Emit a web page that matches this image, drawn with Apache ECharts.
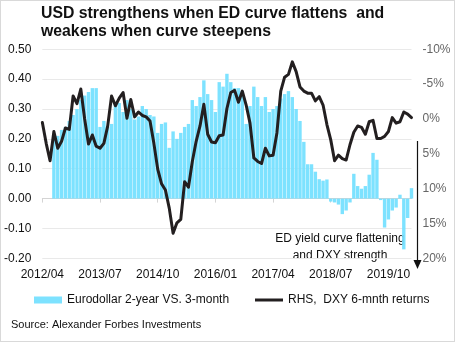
<!DOCTYPE html>
<html>
<head>
<meta charset="utf-8">
<script src="https://cdn.jsdelivr.net/npm/echarts@6/dist/echarts.min.js"></script>
<style>
html,body{margin:0;padding:0;background:#fff;}
#c{width:455px;height:342px;box-sizing:border-box;border:1px solid #d9d9d9;}
</style>
</head>
<body>
<div id="c"></div>
<script>
// ---- data ----
const startYear = 2012, startMonth = 4, monthCount = 97;
const categories = [];
for (let k = 0; k < monthCount; k++) {
  const m = (startMonth - 1 + k) % 12 + 1;
  const y = startYear + Math.floor((startMonth - 1 + k) / 12);
  categories.push(y + '/' + String(m).padStart(2, '0'));
}
const tickLabels = ['2012/04','2013/07','2014/10','2016/01','2017/04','2018/07','2019/10'];

// Eurodollar 2-year vs 3-month spread (left axis)
const edSpread = [
  null, null, null, 0.20, 0.21, 0.23, 0.24, 0.26, 0.28, 0.30,
  0.33, 0.345, 0.357, 0.37, 0.37, 0.24, 0.26, 0.24, 0.25, 0.32,
  0.32, 0.29, 0.33, 0.30, 0.265, 0.275, 0.31, 0.30, 0.28, 0.275,
  0.22, 0.25, 0.255, 0.17, 0.225, 0.20, 0.22, 0.24, 0.25, 0.33,
  0.31, 0.34, 0.396, 0.35, 0.33, 0.29, 0.39, 0.375, 0.418, 0.39,
  0.37, 0.37, 0.36, 0.25, 0.31, 0.375, 0.34, 0.31, 0.34, 0.29,
  0.30, 0.31, 0.335, 0.35, 0.36, 0.34, 0.30, 0.26, 0.19, 0.115,
  0.115, 0.09, 0.065, 0.06, 0.064, -0.01, -0.013, -0.02, -0.052, -0.04,
  -0.013, 0.083, 0.042, 0.033, 0.042, 0.08, 0.153, 0.13, -0.005, -0.097,
  -0.07, -0.04, -0.03, 0.013, -0.17, -0.065, 0.035
];

// DXY 6-month returns, % (right axis, inverted)
const dxyReturns = [
  0.5, 3.5, 6.0, 1.8, 4.2, 3.2, 1.3, 1.5, -3.3, -2.2,
  -4.3, 0.0, 3.6, 2.3, 3.9, 4.2, 3.5, 1.0, -3.3, -1.9,
  -3.0, -3.8, -0.1, -2.8, -0.3, -1.0, -0.5, -0.3, 0.3, 3.5,
  7.2, 9.3, 10.2, 12.8, 16.4, 14.9, 14.4, 9.0, 9.8, 6.1,
  3.2, 1.0, -2.1, 2.2, 3.3, 3.4, 2.4, 2.3, -1.5, -3.8,
  -4.1, -2.4, -4.0, -2.0, 0.6, 5.6, 6.1, 6.4, 4.2, 5.3,
  5.2, 2.0, -4.0, -6.0, -6.4, -8.2, -6.8, -4.6, -4.0, -3.7,
  -3.7, -2.6, -3.2, -2.0, 0.8, 3.0, 6.0, 5.2, 5.7, 5.9,
  3.7, 1.9, 1.0, 1.2, 2.2, 0.4, 0.2, 2.8, 2.8, 2.5,
  1.8, -0.2, 0.6, 0.4, -1.0, -0.7, -0.2
];

const seriesNames = ['Eurodollar 2-year VS. 3-month', 'RHS,  DXY 6-mnth returns'];
const titleLines = ['USD strengthens when ED curve flattens  and', 'weakens when curve steepens'];
const noteLines = ['ED yield curve flattening', 'and DXY strength'];
const sourceText = 'Source: Alexander Forbes Investments';

// ---- chart ----
const chart = echarts.init(document.getElementById('c'), null, {renderer: 'canvas'});
const FONT = 'Liberation Sans, Arial, sans-serif';
const tickSet = new Set(tickLabels);

chart.setOption({
  animation: false,
  textStyle: {fontFamily: FONT},
  title: {
    text: titleLines.join('\n'),
    left: 35, top: -1,
    textStyle: {fontFamily: FONT, fontSize: 15.8, fontWeight: 'bold', color: '#111', lineHeight: 18}
  },
  grid: {left: 40, right: 42.5, top: 48.3, bottom: 82.7, containLabel: false},
  legend: [
    {data: [{name: seriesNames[0], icon: 'rect'}], left: 28, top: 288, itemWidth: 28, itemHeight: 7, itemGap: 0,
     textStyle: {fontFamily: FONT, fontSize: 12, color: '#111'}},
    {data: [{name: seriesNames[1], icon: 'rect'}], left: 249, top: 288, itemWidth: 28, itemHeight: 3, itemGap: 0,
     textStyle: {fontFamily: FONT, fontSize: 12, color: '#111'}}
  ],
  xAxis: [
    {
      type: 'category', data: categories, boundaryGap: false,
      axisLine: {show: false, onZero: false},
      axisTick: {show: false},
      axisLabel: {
        interval: function (i, v) { return tickSet.has(v); },
        margin: 10, fontSize: 12, color: '#111', fontFamily: FONT
      },
      splitLine: {show: false}
    },
    {
      type: 'category', data: categories, boundaryGap: false, position: 'bottom',
      axisLine: {show: true, onZero: true, onZeroAxisIndex: 0, lineStyle: {color: '#d4d4d4', width: 1}},
      axisTick: {show: true, length: 4, interval: function (i, v) { return tickSet.has(v); }, lineStyle: {color: '#d4d4d4'}},
      axisLabel: {show: false},
      splitLine: {show: false}
    }
  ],
  yAxis: [
    {
      type: 'value', min: -0.2, max: 0.5, interval: 0.1, position: 'left',
      axisLine: {show: false}, axisTick: {show: false},
      axisLabel: {formatter: v => v.toFixed(2), margin: 11, fontSize: 12, color: '#111', fontFamily: FONT},
      splitLine: {show: true, lineStyle: {color: '#e9e9e9', width: 1}}
    },
    {
      type: 'value', min: -10, max: 20, interval: 5, inverse: true, position: 'right',
      axisLine: {show: false}, axisTick: {show: false},
      axisLabel: {formatter: v => v + '%', margin: 11, fontSize: 12, color: '#666', fontFamily: FONT},
      splitLine: {show: false}
    }
  ],
  series: [
    {
      name: seriesNames[0], type: 'bar', data: edSpread, xAxisIndex: 0, yAxisIndex: 0,
      barWidth: 3.4,
      itemStyle: {color: '#76E0FF', opacity: 0.95},
      z: 2
    },
    {
      name: seriesNames[1], type: 'line', data: dxyReturns, xAxisIndex: 0, yAxisIndex: 1,
      symbol: 'none', showSymbol: false, smooth: false,
      lineStyle: {color: '#231f20', width: 3, join: 'round', cap: 'round'},
      itemStyle: {color: '#231f20'},
      z: 5
    }
  ],
  graphic: [
    {type: 'text', left: 10, top: 318,
     style: {text: sourceText, font: '11px ' + FONT, fill: '#111'}},
    {type: 'text', x: 339, y: 229,
     style: {text: noteLines.join('\n'), font: '12px ' + FONT, fill: '#111', textAlign: 'center', lineHeight: 17}},
    {type: 'line', shape: {x1: 416.5, y1: 140, x2: 416.5, y2: 262},
     style: {stroke: '#111', lineWidth: 1.2}},
    {type: 'polygon', shape: {points: [[412.5, 259], [420.5, 259], [416.5, 268]]},
     style: {fill: '#111'}}
  ]
});
</script>
</body>
</html>
